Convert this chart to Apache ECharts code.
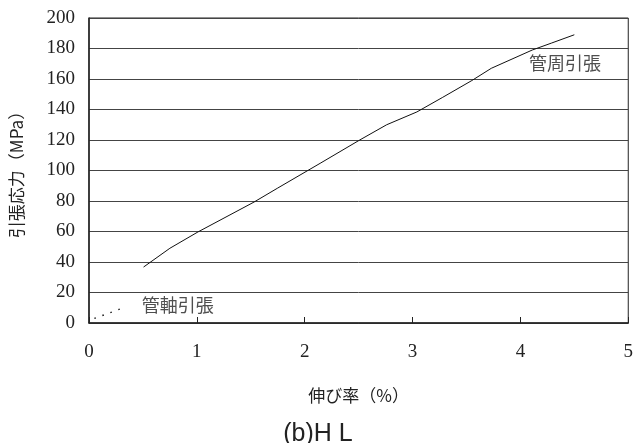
<!DOCTYPE html>
<html><head><meta charset="utf-8">
<script src="https://cdn.jsdelivr.net/npm/echarts@6/dist/echarts.min.js"></script>
<style>html,body{margin:0;padding:0;background:#fff}#c{width:636px;height:443px}</style>
</head><body><div id="c"></div>
<script>
// Data
var hoopStrain = [0.506, 0.75, 1.01, 1.53, 1.75, 2.15, 2.51, 2.76, 3.04, 3.28, 3.55, 3.73, 4.11, 4.29, 4.50];
var hoopStress = [36.7, 49, 59.7, 79.3, 88.5, 105, 120, 130, 138.4, 148, 159, 167, 179, 183.6, 189];
var axialStrain = [0.05, 0.32];
var axialStress = [3, 10];
var labelText = ['管周引張', '管軸引張'];
var labelX = [4.08, 0.49];
var labelY = [170.5, 11.8];
var xTicks = [0, 1, 2, 3, 4, 5];
var yTicks = [0, 20, 40, 60, 80, 100, 120, 140, 160, 180, 200];

var serif = '"Liberation Serif","DejaVu Serif",serif';
var cjk = '"Noto Sans CJK JP","Noto Sans",sans-serif';

function pairs(xs, ys){ return xs.map(function(x,i){ return [x, ys[i]]; }); }

var chart = echarts.init(document.getElementById('c'));
chart.setOption({
  animation: false,
  backgroundColor: '#fff',
  title: {
    text: '(b)H L', left: 'center', top: 417,
    textStyle: { fontFamily: '"Liberation Sans",Arial,sans-serif', fontSize: 25, fontWeight: 'normal', color: '#222' }
  },
  grid: { left: 87, right: 6, top: 18, bottom: 120, show: true, borderColor: '#222', borderWidth: 1 },
  xAxis: {
    type: 'value', min: xTicks[0], max: xTicks[xTicks.length-1], interval: 1,
    name: '伸び率（%）', nameLocation: 'middle', nameGap: 64,
    nameTextStyle: { fontFamily: cjk, fontSize: 17, color: '#222' },
    axisLine: { show: true, lineStyle: { color: '#222', width: 1.5 } },
    axisTick: { show: true, inside: true, length: 6, lineStyle: { color: '#222' } },
    axisLabel: { fontFamily: serif, fontSize: 19, color: '#222', margin: 20 },
    splitLine: { show: false }
  },
  yAxis: {
    type: 'value', min: yTicks[0], max: yTicks[yTicks.length-1], interval: 20,
    name: '引張応力（MPa）', nameLocation: 'middle', nameGap: 64, nameRotate: 90,
    nameTextStyle: { fontFamily: cjk, fontSize: 17, color: '#222' },
    axisLine: { show: true, lineStyle: { color: '#222', width: 1.5 } },
    axisTick: { show: false },
    axisLabel: { fontFamily: serif, fontSize: 19, color: '#222', margin: 14 },
    splitLine: { show: true, lineStyle: { color: '#444', width: 1 } }
  },
  series: [
    { type: 'line', data: pairs(hoopStrain, hoopStress), symbol: 'none',
      lineStyle: { color: '#111', width: 1 } },
    { type: 'line', data: pairs(axialStrain, axialStress), symbol: 'none',
      lineStyle: { color: '#111', width: 1.4, type: [1.5, 7] } },
    { type: 'scatter', symbolSize: 0, data: pairs(labelX, labelY).map(function(p,i){
        return { value: p, label: { show: true, formatter: labelText[i], position: 'right', distance: 0,
          fontFamily: cjk, fontSize: 18, color: '#222' } }; }) }
  ]
});
</script></body></html>
